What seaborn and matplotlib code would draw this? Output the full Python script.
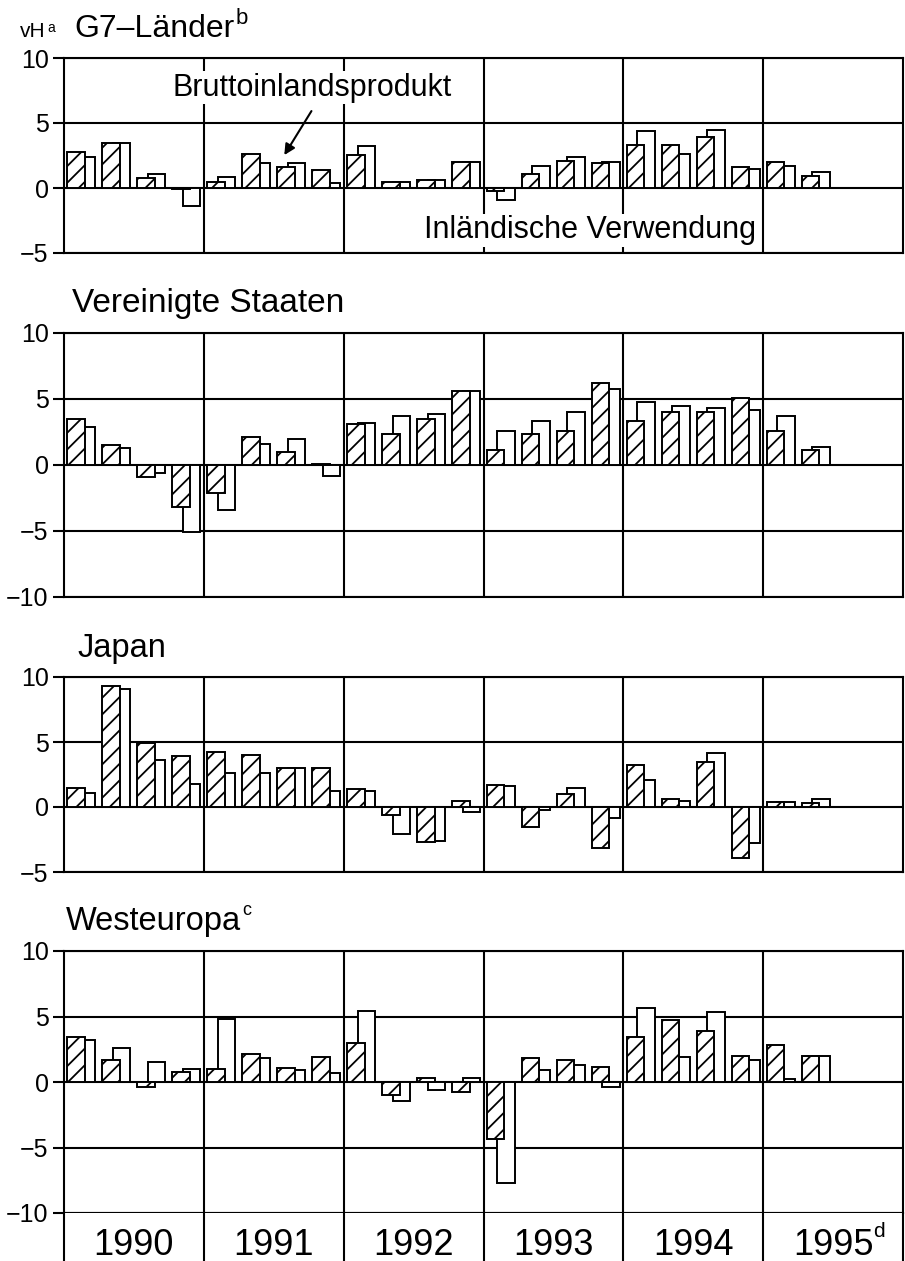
import numpy as np
import pandas as pd
import matplotlib
matplotlib.use("Agg")
import matplotlib.pyplot as plt
import seaborn as sns

# ---------------- data (vH, quarterly, 1990Q1 .. 1995Q2) ----------------
years = ["1990", "1991", "1992", "1993", "1994", "1995"]
panel_titles = ["G7\u2013L\u00e4nder", "Vereinigte Staaten", "Japan", "Westeuropa"]

# Bruttoinlandsprodukt (hatched)
g7_bip = [2.8, 3.5, 0.8, -0.1, 0.5, 2.6, 1.6, 1.4, 2.55, 0.45, 0.65, 2.0,
          -0.2, 1.1, 2.05, 1.9, 3.3, 3.3, 3.9, 1.6, 2.0, 0.9]
us_bip = [3.5, 1.5, -0.9, -3.2, -2.1, 2.15, 0.95, 0.1, 3.1, 2.35, 3.5, 5.6,
          1.15, 2.35, 2.6, 6.2, 3.3, 4.0, 4.0, 5.1, 2.6, 1.1]
jp_bip = [1.5, 9.3, 4.9, 3.9, 4.2, 4.0, 3.0, 3.0, 1.4, -0.6, -2.7, 0.5,
          1.7, -1.5, 1.0, -3.15, 3.25, 0.65, 3.5, -3.9, 0.35, 0.3]
we_bip = [3.4, 1.65, -0.4, 0.8, 1.0, 2.1, 1.1, 1.9, 2.95, -1.0, 0.3, -0.75,
          -4.35, 1.8, 1.65, 1.15, 3.4, 4.7, 3.9, 2.0, 2.8, 2.0]

# Inländische Verwendung (white)
g7_inl = [2.4, 3.5, 1.1, -1.4, 0.85, 1.9, 1.9, 0.4, 3.2, 0.45, 0.6, 2.0,
          -0.9, 1.7, 2.4, 2.0, 4.4, 2.6, 4.5, 1.5, 1.7, 1.2]
us_inl = [2.9, 1.3, -0.6, -5.1, -3.4, 1.6, 2.0, -0.85, 3.2, 3.7, 3.9, 5.6,
          2.6, 3.3, 4.0, 5.75, 4.8, 4.5, 4.35, 4.15, 3.7, 1.35]
jp_inl = [1.05, 9.1, 3.6, 1.75, 2.6, 2.6, 3.0, 1.2, 1.2, -2.1, -2.6, -0.4,
          1.65, -0.2, 1.45, -0.85, 2.1, 0.5, 4.15, -2.8, 0.4, 0.6]
we_inl = [3.2, 2.6, 1.55, 1.0, 4.8, 1.8, 0.95, 0.65, 5.45, -1.45, -0.6, 0.3,
          -7.7, 0.95, 1.3, -0.4, 5.65, 1.9, 5.35, 1.7, 0.2, 2.0]

yticks_small = [-5, 0, 5, 10]
yticks_big = [-10, -5, 0, 5, 10]

# ---------------- style ----------------
sns.set_style("white")
plt.rcParams["font.family"] = ["Liberation Sans", "DejaVu Sans"]
plt.rcParams["hatch.linewidth"] = 1.3
plt.rcParams["axes.unicode_minus"] = True
for key in ["text.color", "axes.labelcolor", "xtick.color", "ytick.color", "axes.edgecolor"]:
    plt.rcParams[key] = "black"

W, H = 905, 1261
fig = plt.figure(figsize=(W / 100, H / 100), dpi=100)

LEFT, RIGHT = 64, 903


def axes_px(top, bottom):
    return fig.add_axes([LEFT / W, (H - bottom) / H, (RIGHT - LEFT) / W, (bottom - top) / H])


n_q = 4 * len(years)
LW = 1.5


def draw_panel(ax, bip, inl, ylim, yticks):
    idx = np.arange(len(bip))
    df = pd.DataFrame({"pos_i": idx + 0.65, "pos_b": idx + 0.35, "bip": bip, "inl": inl})
    sns.barplot(data=df, x="pos_i", y="inl", native_scale=True, width=0.5,
                color="white", saturation=1, edgecolor="black", linewidth=1.4,
                errorbar=None, ax=ax, zorder=3)
    sns.barplot(data=df, x="pos_b", y="bip", native_scale=True, width=0.5,
                color="white", saturation=1, edgecolor="black", linewidth=1.4,
                hatch="//", errorbar=None, ax=ax, zorder=4)
    ax.set_xlim(0, n_q)
    ax.set_ylim(*ylim)
    ax.set_xticks(np.arange(4, n_q, 4))
    ax.set_xticklabels([])
    ax.tick_params(axis="x", length=0)
    ax.set_yticks(yticks)
    ax.set_yticklabels([f"{v:d}".replace("-", "\u2212") for v in yticks], fontsize=18,
                       color="black")
    ax.tick_params(axis="y", length=8, width=LW, pad=3, direction="out", left=True,
                   colors="black")
    ax.grid(True, color="black", linewidth=LW)
    ax.set_axisbelow(True)
    ax.set_xlabel("")
    ax.set_ylabel("")
    for s in ax.spines.values():
        s.set_visible(True)
        s.set_linewidth(LW)
        s.set_color("black")


ax1 = axes_px(58, 253)
draw_panel(ax1, g7_bip, g7_inl, (-5, 10), yticks_small)
ax2 = axes_px(333, 597)
draw_panel(ax2, us_bip, us_inl, (-10, 10), yticks_big)
ax3 = axes_px(677, 872)
draw_panel(ax3, jp_bip, jp_inl, (-5, 10), yticks_small)
ax4 = axes_px(951, 1213)
draw_panel(ax4, we_bip, we_inl, (-10, 10), yticks_big)

# year label strip below last panel
ax5 = axes_px(1213, H)
ax5.set_xlim(0, n_q)
ax5.set_ylim(0, 1)
ax5.set_xticks([])
ax5.set_yticks([])
for x in np.arange(4, n_q, 4):
    ax5.axvline(x, color="black", linewidth=LW)
for side in ["top", "bottom"]:
    ax5.spines[side].set_visible(False)
for side in ["left", "right"]:
    ax5.spines[side].set_visible(True)
    ax5.spines[side].set_linewidth(LW)
    ax5.spines[side].set_color("black")
year_texts = []
for k, y in enumerate(years):
    year_texts.append(ax5.text(4 * k + 2, 0.13, y, ha="center", va="baseline", fontsize=26,
                               color="black"))


def ftext(x, y, s, **kw):
    return fig.text(x / W, 1 - y / H, s, color="black", **kw)


def sup(artist, s, size, dx=1, dy=-2):
    fig.add_artist(matplotlib.text.Annotation(
        s, xy=(1, 1), xycoords=artist, xytext=(dx, dy), textcoords="offset points",
        ha="left", va="top", fontsize=size, color="black"))


# titles (x left px, baseline px)
t_vh = ftext(20, 37, "vH", fontsize=15, va="baseline")
sup(t_vh, "a", 10, dx=1, dy=1)
t1 = ftext(74, 37, panel_titles[0], fontsize=23, va="baseline")
sup(t1, "b", 16, dx=1, dy=4)
ftext(72, 312, panel_titles[1], fontsize=24, va="baseline")
ftext(77, 657, panel_titles[2], fontsize=23.5, va="baseline")
t4 = ftext(66, 930, panel_titles[3], fontsize=23.5, va="baseline")
sup(t4, "c", 13, dx=1, dy=3)
sup(year_texts[-1], "d", 15, dx=0, dy=4)

# series labels in first panel (white background hides grid lines, as in the original)
box = dict(facecolor="white", edgecolor="none", pad=1)
ax1.text(7.09, 7.7, "Bruttoinlandsprodukt", ha="center", va="center", fontsize=22,
         bbox=box, zorder=6)
ax1.annotate("", xy=(6.26, 2.35), xytext=(7.12, 6.1),
             arrowprops=dict(arrowstyle="-|>", color="black", lw=1.5, mutation_scale=16),
             zorder=6)
ax1.text(15.06, -3.25, "Inl\u00e4ndische Verwendung", ha="center", va="center", fontsize=22,
         bbox=box, zorder=6)

fig.savefig("out.png", dpi=100)
